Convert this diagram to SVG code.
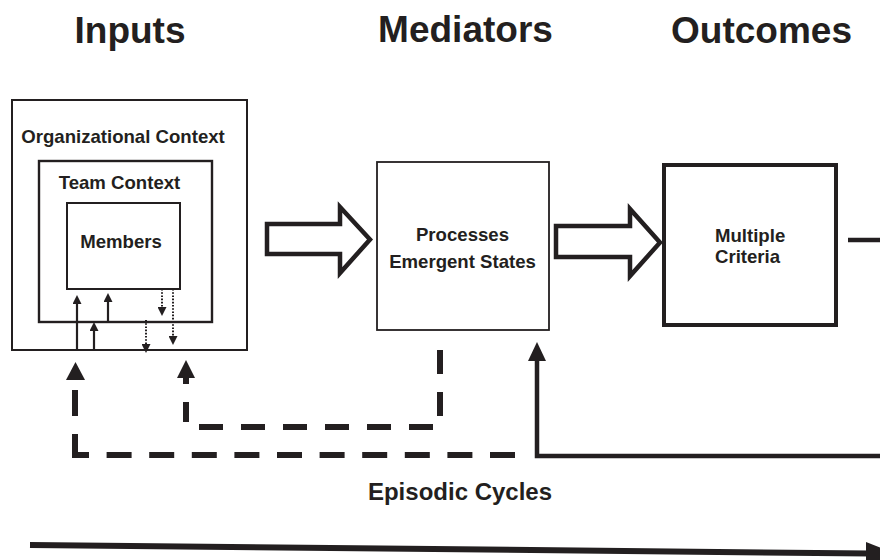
<svg xmlns="http://www.w3.org/2000/svg" width="880" height="560" viewBox="0 0 880 560">
  <style>
    text { font-family: "Liberation Sans", Arial, Helvetica, sans-serif; font-weight: bold; fill: #231f20; }
    .title { font-size: 37px; text-anchor: middle; }
    .lbl { font-size: 18.6px; text-anchor: middle; }
    .box { fill: #ffffff; stroke: #231f20; stroke-width: 2; }
    .thin { fill: none; stroke: #231f20; stroke-width: 2.2; }
    .dot { fill: none; stroke: #231f20; stroke-width: 2; stroke-dasharray: 1.6 1.6; }
    .dash { fill: none; stroke: #231f20; stroke-width: 6; stroke-linejoin: miter; }
    .solid { fill: none; stroke: #231f20; stroke-width: 4.5; stroke-linejoin: miter; }
    .hollow { fill: #ffffff; stroke: #231f20; stroke-width: 4.5; stroke-linejoin: miter; }
    .head { fill: #231f20; stroke: none; }
  </style>
  <defs>
    <marker id="sa" viewBox="0 0 10 10" refX="5.6" refY="5" markerWidth="9" markerHeight="9" markerUnits="userSpaceOnUse" orient="auto">
      <path d="M0,0 L10,5 L0,10 z" fill="#231f20"/>
    </marker>
  </defs>
  <rect width="880" height="560" fill="#ffffff"/>

  <g id="titles">
    <text class="title" x="130" y="43">Inputs</text>
    <text class="title" x="465.5" y="42">Mediators</text>
    <text class="title" x="761.5" y="43">Outcomes</text>
  </g>

  <g id="org-context">
    <rect class="box" x="12" y="100" width="235" height="250"/>
    <text class="lbl" x="123" y="143">Organizational Context</text>
  </g>
  <g id="team-context">
    <rect class="box" x="39" y="161" width="173" height="161" style="stroke-width:2.4"/>
    <text class="lbl" x="119.5" y="189">Team Context</text>
  </g>
  <g id="members">
    <rect class="box" x="67" y="203" width="113" height="86"/>
    <text class="lbl" x="121" y="248">Members</text>
  </g>
  <g id="processes">
    <rect class="box" x="377" y="162" width="172" height="168" style="stroke-width:1.8"/>
    <text class="lbl" x="462.5" y="241">Processes</text>
    <text class="lbl" x="462.5" y="268">Emergent States</text>
  </g>
  <g id="criteria">
    <rect class="box" x="664" y="165" width="172" height="160" style="stroke-width:4"/>
    <text class="lbl" x="715" y="242" style="text-anchor:start">Multiple</text>
    <text class="lbl" x="715" y="263" style="text-anchor:start">Criteria</text>
  </g>
  <g id="episodic-label">
    <text x="460" y="500" style="font-size:24px;text-anchor:middle">Episodic Cycles</text>
  </g>

  <g id="connectors">
    <!-- nested influences -->
    <line class="thin" x1="77" y1="350" x2="77" y2="299" marker-end="url(#sa)"/>
    <line class="thin" x1="94" y1="350" x2="94" y2="326" marker-end="url(#sa)"/>
    <line class="thin" x1="108" y1="322" x2="108" y2="297" marker-end="url(#sa)"/>
    <line class="dot" x1="162" y1="289" x2="162" y2="312" marker-end="url(#sa)"/>
    <line class="dot" x1="173" y1="289" x2="173" y2="341" marker-end="url(#sa)"/>
    <line class="dot" x1="146" y1="320" x2="146" y2="349" marker-end="url(#sa)"/>

    <!-- hollow block arrows -->
    <polygon class="hollow" points="267,224 340,224 340,207 370,239.5 340,273 340,254 267,254"/>
    <polygon class="hollow" points="556,226 630,226 630,209 660,242.5 630,276 630,257 556,257"/>

    <!-- outcome line to the right -->
    <line class="solid" x1="848" y1="240" x2="880" y2="240"/>

    <!-- dashed feedback: mediators to team context -->
    <path class="dash" d="M440,350 V427 H186 V402" stroke-dasharray="24 18"/>
    <line class="dash" x1="186" y1="376" x2="186" y2="384"/>
    <polygon class="head" points="186,360 177,378 195,378"/>

    <!-- dashed feedback: to organizational context -->
    <path class="dash" d="M515,455 H75 V390" stroke-dasharray="25 17.6 25 17.6 25 17.6 25 17.6 25 17.6 25 17.6 25 17.6 25 17.6 25 17.6 25 17.6 35 18 26 10"/>
    <polygon class="head" points="75.5,362 66,380 85,380"/>

    <!-- solid feedback: outcomes to mediators -->
    <path class="solid" d="M880,456 H537 V358"/>
    <polygon class="head" points="537,342 528,361 546,361"/>

    <!-- time axis -->
    <line x1="30" y1="545" x2="870" y2="553.5" stroke="#231f20" stroke-width="6"/>
    <polygon class="head" points="866,542 896,554 866,566"/>
  </g>
</svg>
